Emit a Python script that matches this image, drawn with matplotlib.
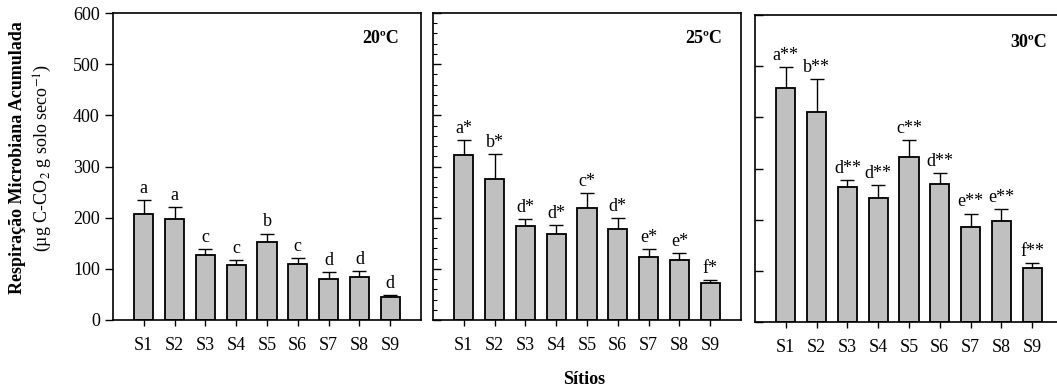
import numpy as np
import matplotlib.pyplot as plt
from matplotlib.ticker import MultipleLocator

plt.rcParams['font.family'] = ['Liberation Serif', 'DejaVu Serif']
plt.rcParams['font.size'] = 13
plt.rcParams['mathtext.fontset'] = 'stix'

sites = ['S1', 'S2', 'S3', 'S4', 'S5', 'S6', 'S7', 'S8', 'S9']

mean_20 = [208, 197, 128, 107, 153, 109, 81, 84, 44]
err_20 = [26, 23, 10, 10, 16, 12, 13, 12, 4]
lab_20 = ['a', 'a', 'c', 'c', 'b', 'c', 'd', 'd', 'd']

mean_25 = [322, 276, 184, 169, 218, 177, 123, 117, 72]
err_25 = [30, 48, 13, 16, 31, 22, 15, 13, 7]
lab_25 = ['a*', 'b*', 'd*', 'd*', 'c*', 'd*', 'e*', 'e*', 'f*']

mean_30 = [457, 410, 263, 243, 322, 270, 186, 197, 106]
err_30 = [42, 64, 15, 25, 34, 22, 26, 23, 9]
lab_30 = ['a**', 'b**', 'd**', 'd**', 'c**', 'd**', 'e**', 'e**', 'f**']

temps = ['20ºC', '25ºC', '30ºC']

W, H = 1057, 391
fig = plt.figure(figsize=(W / 100, H / 100), dpi=100)

# panel boxes in pixels: left, top, right, bottom
boxes = [(113, 13, 421, 320), (433, 13, 741, 320), (755, 15, 1063, 322)]
data = [(mean_20, err_20, lab_20), (mean_25, err_25, lab_25), (mean_30, err_30, lab_30)]
temp_pos = [(0.93, 0.918), (0.94, 0.918), (0.948, 0.912)]

x = np.arange(1, len(sites) + 1)
for i, (box, (m, e, lab)) in enumerate(zip(boxes, data)):
    l, t, r, b = box
    ax = fig.add_axes([l / W, 1 - b / H, (r - l) / W, (b - t) / H])
    ax.bar(x, m, width=0.62, color='#c0c0c0', edgecolor='black', linewidth=1.3, zorder=2)
    ax.errorbar(x, m, yerr=[np.zeros(len(m)), e], fmt='none', ecolor='black',
                elinewidth=1, capsize=5, capthick=1, zorder=1)
    for xi, mi, ei, s in zip(x, m, e, lab):
        ax.text(xi, mi + ei + 6, s, ha='center', va='bottom', fontsize=13)
    ax.set_xlim(0, 10)
    ax.set_ylim(0, 600)
    ax.set_xticks(x)
    ax.set_xticklabels(sites)
    ax.tick_params(axis='x', direction='out', length=4, width=1, pad=8)
    ax.yaxis.set_major_locator(MultipleLocator(100))
    if i == 0:
        ax.tick_params(axis='y', direction='out', length=6, width=1)
    else:
        ax.tick_params(axis='y', direction='in', length=6, width=1, labelleft=False)
    if i == 1:
        ax.yaxis.set_minor_locator(MultipleLocator(20))
        ax.tick_params(axis='y', which='minor', direction='in', length=3, width=0.8)
    for sp in ax.spines.values():
        sp.set_linewidth(1.2)
    ax.text(temp_pos[i][0], temp_pos[i][1], temps[i], transform=ax.transAxes,
            ha='right', va='center', fontsize=13, fontweight='bold')

fig.text(18 / W, 1 - 158 / H, 'Respiração Microbiana Acumulada', rotation=90,
         ha='center', va='center', fontsize=13, fontweight='bold')
fig.text(43 / W, 1 - 158 / H, '(µg C-CO$_2$ g solo seco$^{-1}$)', rotation=90,
         ha='center', va='center', fontsize=13)
fig.text(584 / W, 1 - 380 / H, 'Sítios', ha='center', va='center',
         fontsize=13, fontweight='bold')

fig.savefig('out.png', dpi=100)
